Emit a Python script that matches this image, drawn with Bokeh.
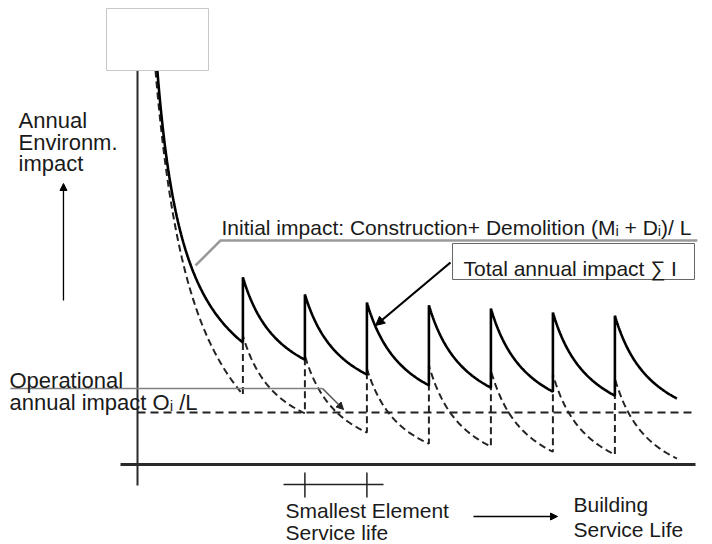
import numpy as np
from bokeh.plotting import figure
from bokeh.models import Range1d, Arrow, NormalHead
from bokeh.core.properties import value
from bokeh.embed import file_html
from bokeh.resources import INLINE

# ---- schematic data (x: years of building life, y: relative annual impact) ----
start_year = 3.2
dashed_start_year = 2.9
start_impact = 98.5
replacement_years = [17, 27, 37, 47, 57, 67, 77]
end_year = 87
total_peaks = [46.8, 42.5, 40.5, 39.8, 39.0, 38.0, 37.2]
total_valleys = [30.5, 26.2, 22.5, 19.8, 19.2, 18.2, 17.2, 16.5]
element_starts = [98.5, 32.2, 27.2, 24.0, 24.8, 23.5, 22.5, 21.5]
element_ends = [17.5, 12.8, 8.0, 5.2, 4.5, 3.2, 2.5, 1.5]
operational_level = 13.0
operational_end_year = 89.5
interval_years = [27, 37]

FONT = value("Liberation Sans")
TXT = "#1a1a1a"


def decay(t0, t1, y0, y1, s, n=80):
    u = np.linspace(0, 1, n)
    f = (1 / (u + s) - 1 / (1 + s)) / (1 / s - 1 / (1 + s))
    return list(t0 + u * (t1 - t0)), list(y1 + f * (y0 - y1))


# total annual impact (solid sawtooth)
tx, ty = decay(start_year, replacement_years[0], start_impact, total_valleys[0], 0.34)
bounds = replacement_years + [end_year]
for k in range(len(replacement_years)):
    xs, ys = decay(bounds[k], bounds[k + 1], total_peaks[k], total_valleys[k + 1], 0.65)
    tx += xs
    ty += ys

# element contributions (dashed)
dx, dy = [], []
seg_starts = [dashed_start_year] + replacement_years
for k in range(len(element_starts)):
    xs, ys = decay(seg_starts[k], bounds[k], element_starts[k], element_ends[k], 0.46 if k == 0 else 0.6)
    dx += xs
    dy += ys

p = figure(width=712, height=544, x_range=Range1d(-22.097, 92.742), y_range=Range1d(-20, 116),
           output_backend="svg", toolbar_location=None, x_axis_type=None, y_axis_type=None,
           min_border=0)
p.outline_line_color = None
p.background_fill_color = "white"

# axes
p.line([0, 0], [start_impact, -5.25], line_color="#2a2a2a", line_width=2)
p.line([-2.74, 90], [0, 0], line_color="#2a2a2a", line_width=3)

# operational level
p.line([0, operational_end_year], [operational_level, operational_level],
       line_color="#222", line_width=2, line_dash="8 5")

# curves
p.line(dx, dy, line_color="#222", line_width=2, line_dash="7 4")
p.line(tx, ty, line_color="black", line_width=2.6)

# callout lines
p.line([9.35, 13.39, 90.3], [49.75, 56.0, 56.0], line_color="#9a9a9a", line_width=2.5)
p.line([-20.5, 29.84], [19, 19], line_color="#808080", line_width=1.5)
p.add_layout(Arrow(x_start=29.84, y_start=19, x_end=33.23, y_end=13.75, line_color="#555",
                   line_width=1.5, end=NormalHead(size=7, fill_color="#222", line_color="#222")))
p.add_layout(Arrow(x_start=50.48, y_start=50.5, x_end=38.39, y_end=34.75, line_color="black",
                   line_width=2.2, end=NormalHead(size=9, fill_color="black", line_color="black")))

# direction arrows
p.add_layout(Arrow(x_start=-11.94, y_start=41, x_end=-11.94, y_end=70.25, line_color="black",
                   line_width=1.3, end=NormalHead(size=7, fill_color="black", line_color="black")))
p.add_layout(Arrow(x_start=54.19, y_start=-13, x_end=67.74, y_end=-13, line_color="black",
                   line_width=1.3, end=NormalHead(size=7, fill_color="black", line_color="black")))

# smallest element service life interval
p.line([23.55, 39.68], [-5, -5], line_color="#222", line_width=1.5)
for yr in interval_years:
    p.line([yr, yr], [-2, -8.25], line_color="#222", line_width=1.5)

# boxes
p.quad(left=[50.81], right=[89.84], top=[55.25], bottom=[46.25], fill_color="white",
       line_color="#666", line_width=1)
p.quad(left=[-5.0], right=[11.45], top=[114], bottom=[98.5], fill_color="white",
       line_color="#c8c8c8", line_width=1)

# texts
def label(x, y, s, size="22px"):
    p.text(x=[x], y=[y], text=[s], text_font=FONT, text_font_size=size, text_color=TXT,
           text_align="left", text_baseline="alphabetic")

label(-19.19, 86.0, "Annual")
label(-19.19, 80.5, "Environm.")
label(-19.19, 75.25, "impact")
label(13.55, 59.25, "Initial impact: Construction+ Demolition (Mᵢ + Dᵢ)/ L", "21px")
label(52.58, 49.0, "Total annual impact ∑ I", "21px")
label(-20.65, 21.0, "Operational")
label(-20.65, 15.5, "annual impact Oᵢ /L")
label(23.87, -11.5, "Smallest Element", "21px")
label(23.87, -17.0, "Service life", "21px")
label(70.32, -10.0, "Building", "21px")
label(70.32, -16.25, "Service Life", "21px")

open("out.html", "w").write(file_html(p, INLINE))
